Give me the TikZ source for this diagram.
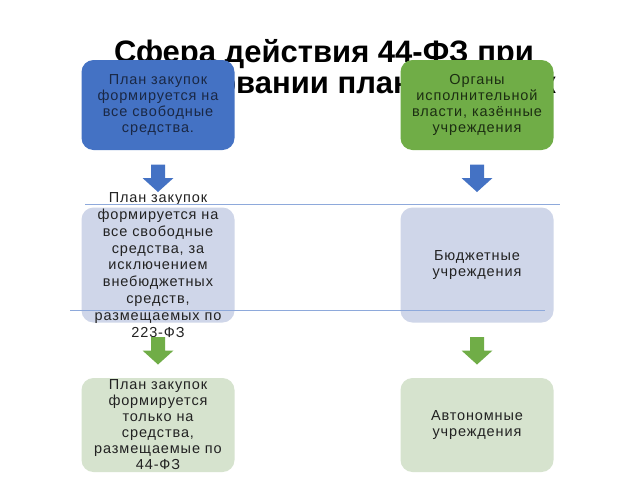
\documentclass[tikz,border=0pt]{standalone}
\usepackage{fontspec}
\setmainfont{Liberation Sans}
\definecolor{accblue}{HTML}{4472C4}
\definecolor{accgreen}{HTML}{70AD47}
\definecolor{paleblue}{HTML}{CFD6E9}
\definecolor{palegreen}{HTML}{D6E3CE}
\definecolor{rulecol}{HTML}{8EA9DB}
\definecolor{txtblue}{HTML}{1A2845}
\definecolor{txtgreen}{HTML}{1C2E12}
\definecolor{txtdark}{HTML}{222222}
\newcommand{\boxfont}{\fontsize{14.5}{16}\selectfont\addfontfeature{LetterSpace=6}}
\tikzset{
  box/.style={rounded corners=12pt, minimum width=153pt, inner sep=0pt},
  boxtext/.style={align=center, inner sep=0pt, font=\boxfont, text=txtdark},
  hrule/.style={draw=rulecol, line width=0.8pt},
  titletext/.style={font=\fontsize{31}{31}\selectfont\bfseries, anchor=base},
  blockarrow/.pic={\fill (-7,-14) -- (7,-14) -- (7,-0.5) -- (15.5,-0.5) -- (0,13.5)
      -- (-15.5,-0.5) -- (-7,-0.5) -- cycle;}
}
\begin{document}
\begin{tikzpicture}[x=1pt,y=-1pt]
\useasboundingbox (0,0) rectangle (640,480);
\fill[white] (0,0) rectangle (640,480);
% title (partly hidden behind boxes)
\node[titletext] (title1) at (324,62) {Сфера действия 44-ФЗ при};
\node[titletext] (title2) at (324,93) {формировании плана закупок};
% left column
\node[box, fill=accblue, minimum height=90pt] (l1) at (158,105) {};
\node[boxtext, text=txtblue] (l1t) at (l1.center) {План закупок\\формируется на\\все свободные\\средства.};
\node[box, fill=paleblue, minimum height=115pt] (l2) at (158,265) {};
\node[boxtext, font=\fontsize{14.5}{16.8}\selectfont\addfontfeature{LetterSpace=6}] (l2t) at (l2.center)
  {План закупок\\формируется на\\все свободные\\средства, за\\исключением\\внебюджетных\\средств,\\размещаемых по\\223-ФЗ};
\node[box, fill=palegreen, minimum height=94pt] (l3) at (158,425) {};
\node[boxtext] (l3t) at (l3.center)
  {План закупок\\формируется\\только на\\средства,\\размещаемые по\\44-ФЗ};
% right column
\node[box, fill=accgreen, minimum height=90pt] (r1) at (477,105) {};
\node[boxtext, text=txtgreen] (r1t) at (r1.center) {Органы\\исполнительной\\власти, казённые\\учреждения};
\node[box, fill=paleblue, minimum height=115pt] (r2) at (477,265) {};
\node[boxtext] (r2t) at (r2.center) {Бюджетные\\учреждения};
\node[box, fill=palegreen, minimum height=94pt] (r3) at (477,425) {};
\node[boxtext] (r3t) at (r3.center) {Автономные\\учреждения};
% block arrows
\pic[fill=accblue] at (158,178.5) {blockarrow};
\pic[fill=accblue] at (477,178.5) {blockarrow};
\pic[fill=accgreen] at (158,351) {blockarrow};
\pic[fill=accgreen] at (477,351) {blockarrow};
% thin rules
\coordinate (h1a) at (85,204);
\coordinate (h1b) at (560,204);
\coordinate (h2a) at (70,310);
\coordinate (h2b) at (545,310);
\draw[hrule] (h1a) -- (h1b);
\draw[hrule] (h2a) -- (h2b);
\end{tikzpicture}
\end{document}
